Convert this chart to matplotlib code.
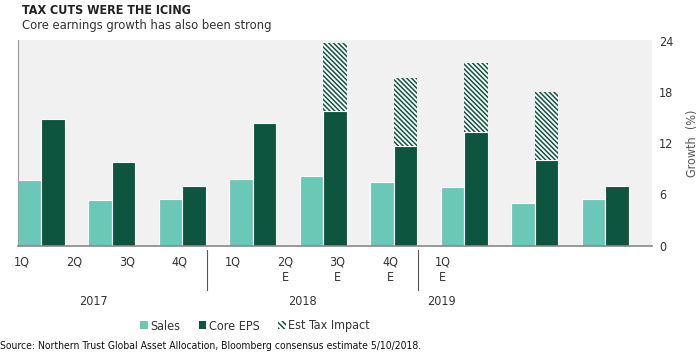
import matplotlib
matplotlib.use("Agg")
import matplotlib.pyplot as plt
from matplotlib import font_manager
from matplotlib.patches import Patch

# look for a narrow / condensed face, the reference uses Arial Narrow style text
narrow = None
for f in font_manager.fontManager.ttflist:
    if "Narrow" in f.name or f.stretch == "condensed" or "Condensed" in f.fname:
        if f.weight in (400, "normal", "regular") and f.style == "normal":
            narrow = f.name
            break
fam = [narrow, "DejaVu Sans"] if narrow else ["Liberation Sans", "DejaVu Sans"]
plt.rcParams["font.family"] = fam
plt.rcParams["font.stretch"] = "condensed"

# data
quarters = ["1Q", "2Q", "3Q", "4Q", "1Q", "2Q\nE", "3Q\nE", "4Q\nE", "1Q\nE"]
years = ["2017", "2018", "2019"]
sales = [7.7, 5.3, 5.5, 7.85, 8.2, 7.5, 6.9, 5.05, 5.45]
core_eps = [14.8, 9.85, 7.0, 14.4, 15.8, 11.7, 13.3, 10.05, 7.0]
tax_impact = [0, 0, 0, 0, 8.0, 7.9, 8.15, 7.95, 0]

c_sales = "#6cc8b6"
c_eps = "#0e5540"
bg = "#f1f1f1"

plt.rcParams["hatch.color"] = c_eps
plt.rcParams["hatch.linewidth"] = 1.1

fig = plt.figure(figsize=(7, 3.61), dpi=100)
ax = fig.add_axes([18 / 700, 115.3 / 361, 634 / 700, 205.7 / 361])
ax.set_facecolor(bg)

x = list(range(len(quarters)))
w = 1 / 3
ax.bar(x, sales, width=w, align="edge", color=c_sales,
       edgecolor="white", linewidth=0.8)
ax.bar([i + w for i in x], core_eps, width=w, align="edge", color=c_eps,
       edgecolor="white", linewidth=0.8)
for i in x:
    if tax_impact[i] > 0:
        ax.bar(i + w, tax_impact[i], bottom=core_eps[i], width=w, align="edge",
               color="white", edgecolor=c_eps, hatch="\\" * 7, linewidth=0)

ax.set_xlim(0, 9)
ax.set_ylim(0, 24.1)
ax.set_yticks([0, 6, 12, 18, 24])
ax.yaxis.tick_right()
ax.yaxis.set_label_position("right")
ax.tick_params(axis="y", length=0, pad=5, labelsize=9, labelcolor="#333333")
ax.set_ylabel("Growth  (%)", fontsize=9, color="#555555", labelpad=9)
ax.set_xticks([])
for s in ["top", "right"]:
    ax.spines[s].set_visible(False)
ax.spines["left"].set_color("#999999")
ax.spines["bottom"].set_color("#888888")
ax.spines["bottom"].set_linewidth(1.2)

# category labels (excel spaced them apart from the bars)
for i, q in enumerate(quarters):
    ax.text((4 + 52.6 * i) / 634, -0.05, q, transform=ax.transAxes,
            ha="center", va="top", fontsize=9, color="#333333", linespacing=1.25)
for yr, px in zip(years, [93.5, 302, 441]):
    ax.text((px - 18) / 634, -0.27, yr, transform=ax.transAxes,
            ha="center", va="center", fontsize=9, color="#333333")
for px in [207, 418]:
    xf = (px - 18) / 634
    ax.plot([xf, xf], [-0.02, -0.215], transform=ax.transAxes, color="#555555",
            linewidth=0.8, clip_on=False)

handles = [Patch(facecolor=c_sales, label="Sales"),
           Patch(facecolor=c_eps, label="Core EPS"),
           Patch(facecolor="white", edgecolor=c_eps, hatch="\\" * 6, linewidth=0,
                 label="Est Tax Impact")]
fig.legend(handles=handles, loc="center", bbox_to_anchor=(255 / 700, 1 - 326 / 361),
           ncol=3, frameon=False, fontsize=9, handlelength=0.6, handleheight=0.6,
           handletextpad=0.2, columnspacing=1.5, labelcolor="#333333")

fig.text(22 / 700, 1 - 10 / 361, "TAX CUTS WERE THE ICING", fontsize=9,
         fontweight="bold", color="#222222", va="center")
fig.text(22 / 700, 1 - 25 / 361, "Core earnings growth has also been strong",
         fontsize=9.3, color="#333333", va="center")
fig.text(0, 1 - 346 / 361,
         "Source: Northern Trust Global Asset Allocation, Bloomberg consensus estimate 5/10/2018.",
         fontsize=7.5, color="#111111", va="center")

fig.savefig("out.png", dpi=100)
